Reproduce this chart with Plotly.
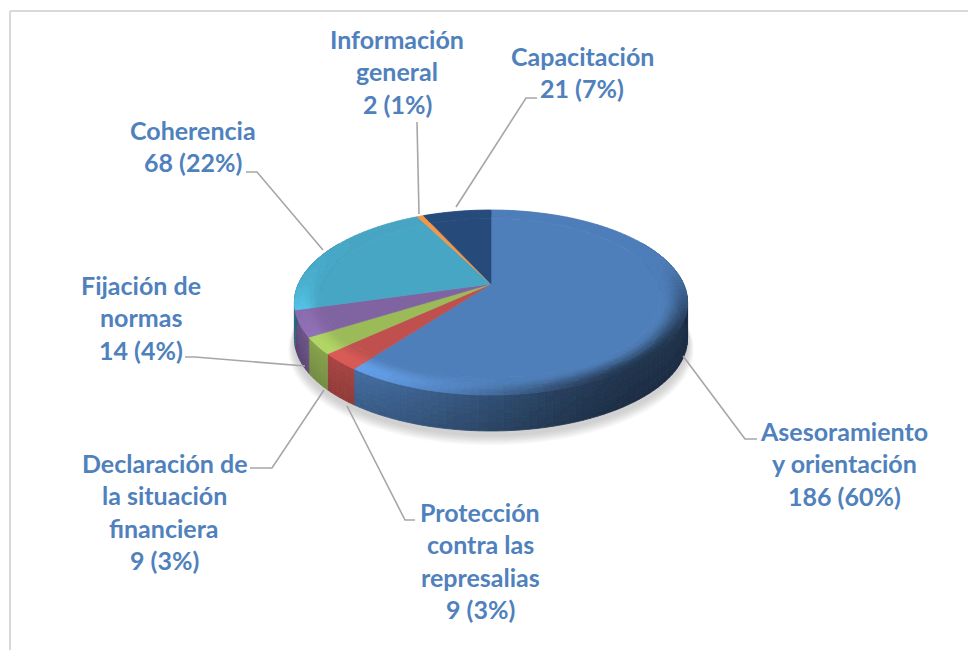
import math
from collections import OrderedDict
import plotly.graph_objects as go

# ---- data (clockwise from 12 o'clock) ----
categories = ["Asesoramiento y orientación", "Protección contra las represalias",
              "Declaración de la situación financiera", "Fijación de normas",
              "Coherencia", "Información general", "Capacitación"]
values = [186, 9, 9, 14, 68, 2, 21]
percents = [60, 3, 3, 4, 22, 1, 7]
label_lines = [["Asesoramiento", "y orientación"], ["Protección", "contra las", "represalias"],
               ["Declaración de", "la situación", "financiera"], ["Fijación de", "normas"],
               ["Coherencia"], ["Información", "general"], ["Capacitación"]]
colors = ["#4f7fba", "#c0504d", "#9bbb59", "#8064a2", "#47a6c4", "#f79646", "#264b7a"]

# ---- layout constants (pixels of the 968x650 page) ----
W, H = 968, 650
APEX = (491, 284)
A, B, K = 192.6, 88.8, 0.20   # projective tilt of the disc
DEPTH = 36
label_pos = [(844, 430.5), (480, 511.5), (164, 462.5), (141, 284.5), (193, 129.5), (397, 38.5), (582, 55.5)]
LINE_GAP = 32.5
FONT_SIZE = 25
leaders = [[(683, 356), (745, 439), (757, 439)],
           [(347, 406), (405, 520), (415, 520)],
           [(324, 390), (272, 468), (250, 468)],
           [(305, 366), (195, 357), (185, 357)],
           [(323, 250), (257, 172), (246, 172)],
           [(419, 214), (417, 122)],
           [(456, 207), (526, 98), (537, 98)]]


def proj(theta, r=1.0, d=0.0):
    u, v = r * math.sin(theta), r * math.cos(theta)
    w = 1 + K * v
    return APEX[0] + A * u / w, APEX[1] - B * v / w + d


def rgb(h):
    return tuple(int(h[i:i + 2], 16) for i in (1, 3, 5))


def mix(c, t, f):
    return tuple(c[i] + (t[i] - c[i]) * f for i in range(3))


def css(c):
    q = [max(0, min(255, 3 * round(x / 3))) for x in c]
    return "rgb(%d,%d,%d)" % tuple(q)


def smooth(x):
    x = max(0.0, min(1.0, x))
    return x * x * (3 - 2 * x)


def lightc(theta):
    return math.cos(theta - math.radians(228))


def side_color(base, theta, t):
    c = max(lightc(theta), 0)
    f = (0.42 + 0.46 * c ** 2) * (1 - 0.14 * t)
    return tuple(x * f for x in base)


def bevel_color(base, theta, t):
    """Colour on the rounded rim; t runs 0 (flat top) to 1 (outer edge)."""
    bright = max(lightc(theta), 0) ** 2 * smooth(-math.cos(theta) + 0.75)
    dark = smooth((-math.cos(theta) + 0.35) / 1.0) * (1 - bright)
    gain = 1.28 if base[2] > 170 and base[0] < 90 else 1.14
    lit = tuple(min(255, x * gain) for x in base)
    shaded = side_color(base, theta, 0)
    c = mix(base, lit, bright * smooth(t * 1.3))
    return mix(c, shaded, dark * smooth(t) ** 1.2)


fig = go.Figure()
BUCKET = OrderedDict()


def quad(pts, color):
    BUCKET.setdefault(color, []).append(pts)


def flush():
    for color, polys in BUCKET.items():
        xs, ys = [], []
        for pts in polys:
            xs += [p[0] for p in pts] + [pts[0][0], None]
            ys += [p[1] for p in pts] + [pts[0][1], None]
        fig.add_trace(go.Scatter(x=xs, y=ys, mode="lines", fill="toself", fillcolor=color,
                                 line=dict(color=color, width=0.8), hoverinfo="skip", showlegend=False))
    BUCKET.clear()


# soft shadow below the disc
for i in range(10):
    g = 1 - i / 10
    pts = [proj(2 * math.pi * s / 120, 1.0 + 0.03 * g, DEPTH + 4 + 6 * g) for s in range(121)]
    fig.add_trace(go.Scatter(x=[p[0] for p in pts], y=[p[1] for p in pts], mode="none", fill="toself",
                             fillcolor="rgba(120,120,120,0.035)", hoverinfo="skip", showlegend=False))

# wedge angles from the values
total = sum(values)
angles = []
acc = 0
for v in values:
    angles.append((2 * math.pi * acc / total, 2 * math.pi * (acc + v) / total))
    acc += v

STEP = math.radians(2)
SIDE_STRIPS = 8
BEVEL_N = 10
BEVEL_START = 0.87


def samples(a0, a1):
    n = max(1, int(math.ceil((a1 - a0) / STEP)))
    return [a0 + (a1 - a0) * i / n for i in range(n + 1)]


# outer wall
for (a0, a1), col in zip(angles, colors):
    base = rgb(col)
    ss = samples(a0, a1)
    for p, q in zip(ss, ss[1:]):
        mid = (p + q) / 2
        if mid < math.radians(60) or mid > math.radians(300):
            continue
        for k in range(SIDE_STRIPS):
            d0, d1 = DEPTH * k / SIDE_STRIPS, DEPTH * (k + 1) / SIDE_STRIPS
            quad([proj(p, 1, d0), proj(q, 1, d0), proj(q, 1, d1), proj(p, 1, d1)],
                 css(side_color(base, mid, (k + 0.5) / SIDE_STRIPS)))
flush()

# flat top of each wedge
for (a0, a1), col, cat in zip(angles, colors, categories):
    ss = samples(a0, a1)
    pts = [APEX] + [proj(t, BEVEL_START) for t in ss] + [APEX]
    fig.add_trace(go.Scatter(x=[p[0] for p in pts], y=[p[1] for p in pts], mode="lines", fill="toself",
                             fillcolor=col, line=dict(color=col, width=0.6), name=cat,
                             hoverinfo="name", showlegend=False))

# bevelled rim
for (a0, a1), col in zip(angles, colors):
    base = rgb(col)
    ss = samples(a0, a1)
    for p, q in zip(ss, ss[1:]):
        mid = (p + q) / 2
        for k in range(BEVEL_N):
            r0 = BEVEL_START + (1 - BEVEL_START) * k / BEVEL_N
            r1 = BEVEL_START + (1 - BEVEL_START) * (k + 1) / BEVEL_N
            quad([proj(p, r0), proj(q, r0), proj(q, r1), proj(p, r1)],
                 css(bevel_color(base, mid, (k + 0.5) / BEVEL_N)))
flush()

# leader lines
for path in leaders:
    fig.add_trace(go.Scatter(x=[p[0] for p in path], y=[p[1] for p in path], mode="lines",
                             line=dict(color="#a6a6a6", width=1.6), hoverinfo="skip", showlegend=False))

# labels, one row of text per annotation
annotations = []
for lines, v, pct, (cx, cy) in zip(label_lines, values, percents, label_pos):
    rows = lines + [f"{v} ({pct}%)"]
    for i, row in enumerate(rows):
        annotations.append(dict(x=cx, y=cy + i * LINE_GAP, text=f"<b>{row}</b>", showarrow=False,
                                xanchor="center", yanchor="middle",
                                font=dict(family="Lato", size=FONT_SIZE, color="#4f81bd")))

frame = [dict(type="line", x0=10, x1=10, y0=11, y1=H, line=dict(color="#d9d9d9", width=2)),
         dict(type="line", x0=10, x1=W, y0=11, y1=11, line=dict(color="#d9d9d9", width=2))]

fig.update_layout(width=W, height=H, margin=dict(l=0, r=0, t=0, b=0), paper_bgcolor="white",
                  plot_bgcolor="white", showlegend=False, annotations=annotations, shapes=frame,
                  xaxis=dict(range=[0, W], visible=False, fixedrange=True),
                  yaxis=dict(range=[H, 0], visible=False, fixedrange=True))
fig.write_html("out.html", config=dict(displayModeBar=False),
               post_script="document.body.style.margin='0';document.documentElement.style.overflow='hidden';")
